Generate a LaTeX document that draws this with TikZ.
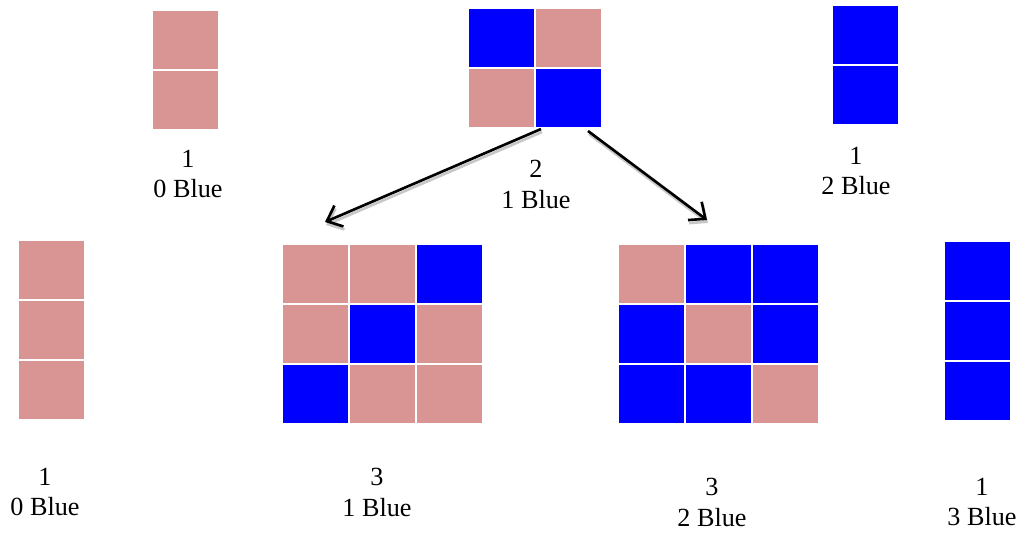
\documentclass[tikz,border=0pt]{standalone}
\usepackage{fontspec}
\setmainfont{Liberation Serif}
\usetikzlibrary{positioning,arrows.meta}
\definecolor{rose}{HTML}{D99594}
\definecolor{pureblue}{HTML}{0000FF}
\begin{document}
\begin{tikzpicture}[x=0.02cm,y=-0.02cm,node distance=0.04cm,
	cell/.style={minimum width=1.3cm,minimum height=1.16cm,inner sep=0pt,outer sep=0pt},
	rosecell/.style={cell,fill=rose},
	bluecell/.style={cell,fill=pureblue},
	lbl/.style={align=center,inner sep=0pt,font=\fontsize{14.9}{17.6}\selectfont},
	arr/.style={line width=1.5pt,-{Straight Barb[length=7.5pt,width=13pt]}},
	shadowarr/.style={arr,draw=black!22}]
	
	\useasboundingbox (0,0) rectangle (1021,532);
	
	% top row
	\node[rosecell,anchor=north west] (p11) at (153,11) {};
	\node[rosecell,below=of p11] (p21) {};
	\node[lbl] (plbl) at (188,174) {1\\0 Blue};
	
	\node[bluecell,anchor=north west] (m11) at (469,9) {};
	\node[rosecell,right=of m11] (m12) {};
	\node[rosecell,below=of m11] (m21) {};
	\node[bluecell,right=of m21] (m22) {};
	\node[lbl] (mlbl) at (536,184) {2\\1 Blue};
	
	\node[bluecell,anchor=north west] (q11) at (833,6) {};
	\node[bluecell,below=of q11] (q21) {};
	\node[lbl] (qlbl) at (856,171) {1\\2 Blue};
	
	% bottom row
	\node[rosecell,anchor=north west] (a11) at (19,241) {};
	\node[rosecell,below=of a11] (a21) {};
	\node[rosecell,below=of a21] (a31) {};
	\node[lbl] (albl) at (45,492) {1\\0 Blue};
	
	\node[rosecell,anchor=north west] (b11) at (283,245) {};
	\node[rosecell,right=of b11] (b12) {};
	\node[bluecell,right=of b12] (b13) {};
	\node[rosecell,below=of b11] (b21) {};
	\node[bluecell,right=of b21] (b22) {};
	\node[rosecell,right=of b22] (b23) {};
	\node[bluecell,below=of b21] (b31) {};
	\node[rosecell,right=of b31] (b32) {};
	\node[rosecell,right=of b32] (b33) {};
	\node[lbl] (blbl) at (377,492) {3\\1 Blue};
	
	\node[rosecell,anchor=north west] (c11) at (619,245) {};
	\node[bluecell,right=of c11] (c12) {};
	\node[bluecell,right=of c12] (c13) {};
	\node[bluecell,below=of c11] (c21) {};
	\node[rosecell,right=of c21] (c22) {};
	\node[bluecell,right=of c22] (c23) {};
	\node[bluecell,below=of c21] (c31) {};
	\node[bluecell,right=of c31] (c32) {};
	\node[rosecell,right=of c32] (c33) {};
	\node[lbl] (clbl) at (712,502) {3\\2 Blue};
	
	\node[bluecell,anchor=north west] (d11) at (945,242) {};
	\node[bluecell,below=of d11] (d21) {};
	\node[bluecell,below=of d21] (d31) {};
	\node[lbl] (dlbl) at (982,502) {1\\3 Blue};
	
	% arrows
	\coordinate (s1) at (541,129);
	\coordinate (e1) at (325,222);
	\coordinate (s2) at (588,131);
	\coordinate (e2) at (707,220);
	\draw[shadowarr] ([shift={(1,3)}]s1) -- ([shift={(1,3)}]e1);
	\draw[shadowarr] ([shift={(1,3)}]s2) -- ([shift={(1,3)}]e2);
	\draw[arr] (s1) -- (e1);
	\draw[arr] (s2) -- (e2);
	
\end{tikzpicture}
\end{document}
